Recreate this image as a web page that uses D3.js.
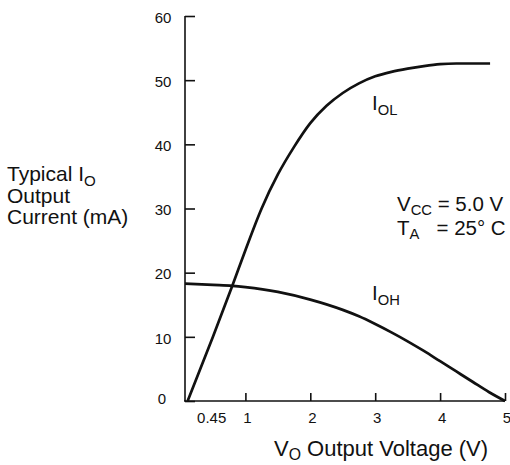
<!DOCTYPE html>
<html><head><meta charset="utf-8">
<script src="https://cdn.jsdelivr.net/npm/d3@7"></script>
<style>
html,body{margin:0;padding:0;background:#fff;}
svg text{font-family:"Liberation Sans",Arial,Helvetica,sans-serif;fill:#111;}
</style></head>
<body><svg id="c" width="510" height="465"></svg>
<script>
// Data
const iolV = [0.11, 0.5, 0.8, 1.0, 1.25, 1.5, 1.75, 2.0, 2.25, 2.5, 2.75, 3.0, 3.25, 3.5, 3.75, 4.0, 4.25, 4.5, 4.77];
const iolI = [0, 10, 18, 23.5, 30.0, 35.3, 39.6, 43.3, 46.0, 48.0, 49.5, 50.6, 51.3, 51.8, 52.2, 52.5, 52.6, 52.6, 52.6];
const iohV = [0.07, 0.5, 0.8, 1.0, 1.5, 2.0, 2.5, 2.75, 3.0, 3.25, 3.5, 3.75, 4.0, 4.25, 4.5, 4.75, 5.0];
const iohI = [18.3, 18.1, 17.95, 17.75, 17.0, 15.8, 14.2, 13.2, 12.0, 10.7, 9.3, 7.8, 6.2, 4.6, 3.0, 1.4, 0];
const yTicks = [0, 10, 20, 30, 40, 50, 60];
const xTickMarks = [1, 2, 3, 4, 5];
const xTickLabels = ["0.45", "1", "2", "3", "4", "5"];
const xTickLabelVals = [0.45, 1, 2, 3, 4, 5];

const svg = d3.select("#c");
const x = d3.scaleLinear().domain([0, 5]).range([180.5, 505]);
const y = d3.scaleLinear().domain([0, 60]).range([401, 16]);
const axisX = 185;
const ink = "#111";

// Y axis
const ya = svg.append("g").attr("transform", `translate(${axisX},0)`)
  .call(d3.axisRight(y).tickValues(yTicks).tickSize(10).tickSizeOuter(0).tickFormat(""));
ya.select(".domain").remove();
ya.selectAll(".tick line").attr("stroke", ink).attr("stroke-width", 1.6);
svg.append("line").attr("x1", axisX).attr("x2", axisX).attr("y1", y(0)).attr("y2", y(60))
  .attr("stroke", ink).attr("stroke-width", 1.6);
svg.selectAll(".ylab").data(yTicks).enter().append("text")
  .attr("x", d => d === 0 ? 162 : 163).attr("y", d => y(d) + (d === 0 ? -2 : 1.5)).attr("dy", "0.35em")
  .attr("text-anchor", "middle").attr("font-size", 15).text(d => d);

// X axis
const xa = svg.append("g").attr("transform", `translate(0,${y(0)})`)
  .call(d3.axisTop(x).tickValues(xTickMarks).tickSize(8).tickSizeOuter(0).tickFormat(""));
xa.select(".domain").remove();
xa.selectAll(".tick line").attr("stroke", ink).attr("stroke-width", 1.6);
svg.append("line").attr("x1", axisX - 1).attr("x2", x(5)).attr("y1", y(0)).attr("y2", y(0))
  .attr("stroke", ink).attr("stroke-width", 1.6);
svg.selectAll(".xlab").data(xTickLabelVals).enter().append("text")
  .attr("x", d => x(d) + 2).attr("y", 423).attr("text-anchor", "middle")
  .attr("font-size", 15).text((d, i) => xTickLabels[i]);

// Curves
const line = d3.line().x(d => x(d[0])).y(d => y(d[1])).curve(d3.curveMonotoneX);
svg.append("path").datum(iolV.map((v, i) => [v, iolI[i]])).attr("d", line)
  .attr("fill", "none").attr("stroke", ink).attr("stroke-width", 2.7);
svg.append("path").datum(iohV.map((v, i) => [v, iohI[i]])).attr("d", line)
  .attr("fill", "none").attr("stroke", ink).attr("stroke-width", 2.7);

// Text helper with subscripts
function label(xp, yp, parts, size, sub) {
  const t = svg.append("text").attr("x", xp).attr("y", yp).attr("font-size", size)
    .attr("xml:space", "preserve");
  parts.forEach(p => {
    const s = t.append("tspan").text(p[0]);
    if (p[1]) { s.attr("font-size", size * 0.72).attr("dy", sub); }
    else if (p[2]) { s.attr("dy", -sub); }
  });
  return t;
}
// Y title
label(7, 181, [["Typical I"], ["O", true]], 21, 5);
label(7, 202.5, [["Output"]], 21, 5);
label(7, 224, [["Current (mA)"]], 21, 5);
// X title
label(274, 456, [["V"], ["O", true], [" Output Voltage (V)", false, true]], 22, 4);
// Curve labels
label(372, 110, [["I"], ["OL", true]], 20.5, 5);
label(372, 300, [["I"], ["OH", true]], 20.5, 5);
// Conditions
label(397, 211, [["V"], ["CC", true], [" = 5.0 V", false, true]], 20.5, 3.5);
label(397, 235, [["T"], ["A", true], ["   = 25° C", false, true]], 20.5, 3.5);
</script></body></html>
